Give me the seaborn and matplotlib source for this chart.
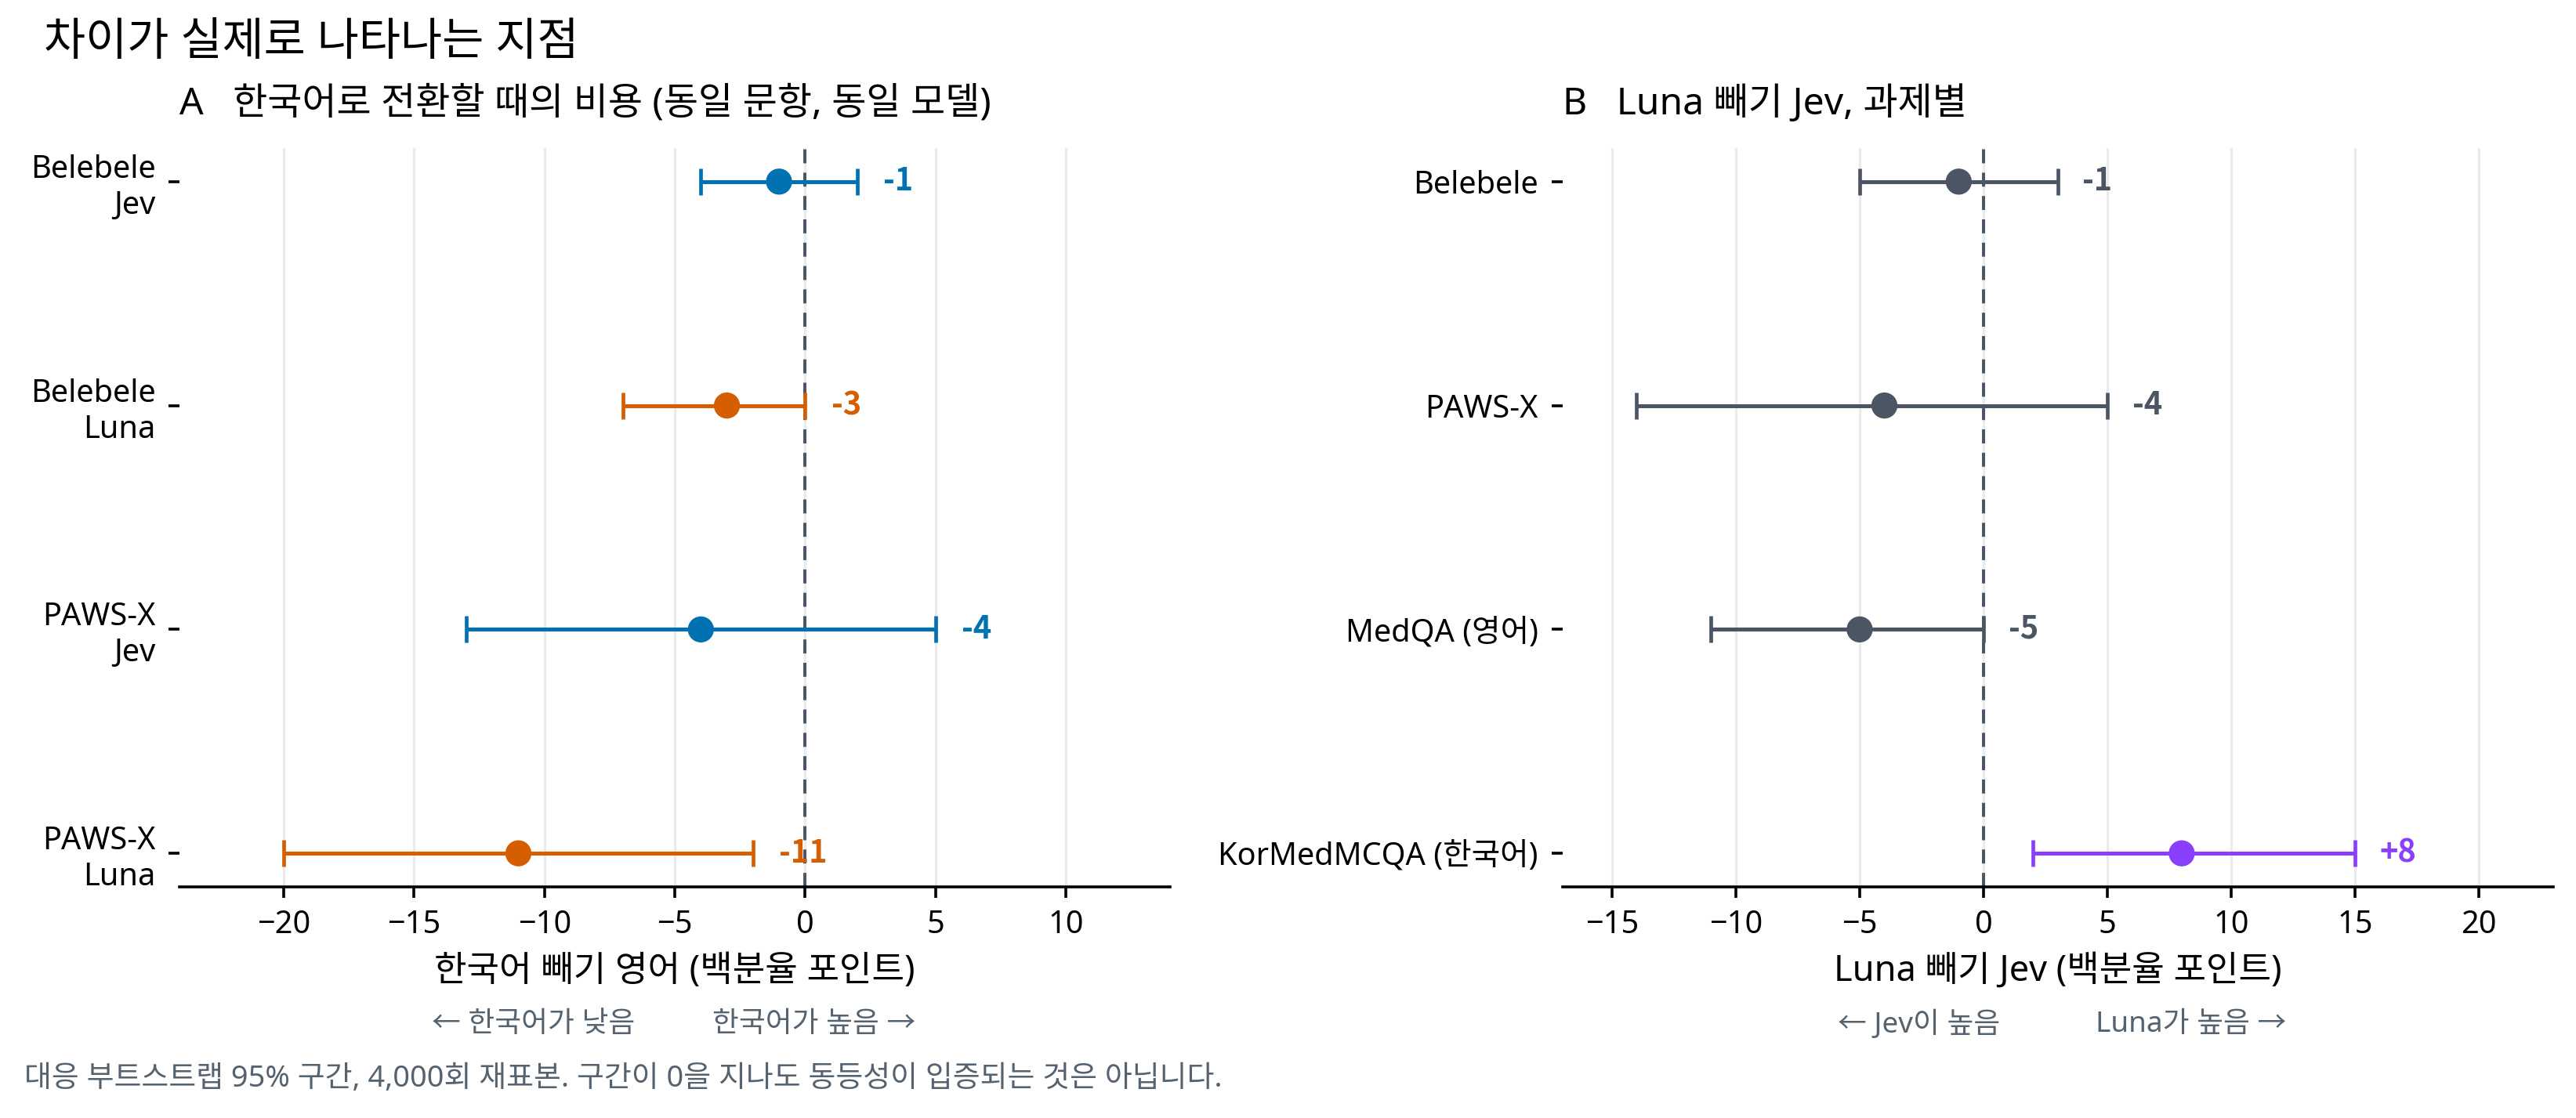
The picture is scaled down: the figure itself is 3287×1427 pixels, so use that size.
import numpy as np
import pandas as pd
import matplotlib
matplotlib.use("Agg")
import matplotlib.pyplot as plt
from matplotlib.ticker import MultipleLocator
import seaborn as sns

# ---------------- data ----------------
a_labels = ["Belebele\nJev", "Belebele\nLuna", "PAWS-X\nJev", "PAWS-X\nLuna"]
a_model = ["Jev", "Luna", "Jev", "Luna"]
a_est = [-1, -3, -4, -11]
a_lo = [-4, -7, -13, -20]
a_hi = [2, 0, 5, -2]

b_labels = ["Belebele", "PAWS-X", "MedQA (영어)", "KorMedMCQA (한국어)"]
b_group = ["영어", "영어", "영어", "한국어"]
b_est = [-1, -4, -5, 8]
b_lo = [-5, -14, -11, 2]
b_hi = [3, 5, 0, 15]

title = "차이가 실제로 나타나는 지점"
a_title = "A   한국어로 전환할 때의 비용 (동일 문항, 동일 모델)"
b_title = "B   Luna 빼기 Jev, 과제별"
a_xlabel = "한국어 빼기 영어 (백분율 포인트)"
b_xlabel = "Luna 빼기 Jev (백분율 포인트)"
a_arrows = ("← 한국어가 낮음", "한국어가 높음 →")
b_arrows = ("← Jev이 높음", "Luna가 높음 →")
footnote = "대응 부트스트랩 95% 구간, 4,000회 재표본. 구간이 0을 지나도 동등성이 입증되는 것은 아닙니다."

a_palette = {"Jev": "#0072B2", "Luna": "#D55E00"}
b_palette = {"영어": "#4B5563", "한국어": "#8A3FFC"}

# ---------------- style ----------------
sns.set_theme(style="white")
plt.rcParams["font.family"] = ["Noto Sans", "Noto Sans CJK KR", "DejaVu Sans"]
plt.rcParams["axes.unicode_minus"] = True
BOLD_FAMILY = ["Noto Sans CJK KR", "DejaVu Sans"]

GRAY_TXT = "#556270"
DPI = 260
fig = plt.figure(figsize=(3287 / DPI, 1427 / DPI), dpi=DPI)
fig.patch.set_facecolor("white")

axA = fig.add_axes([0.0697, 0.2067, 0.3845, 0.6609])
axB = fig.add_axes([0.6065, 0.2067, 0.3847, 0.6609])


def draw_panel(ax, labels, groups, est, lo, hi, palette, xlim, ptitle, xlabel, arrows, arrow_edges):
    df = pd.DataFrame({
        "label": labels, "group": groups, "est": est, "lo": lo, "hi": hi,
    })
    df["pos"] = np.arange(len(df))
    # grid and zero line
    ax.set_xlim(*xlim)
    ax.xaxis.set_major_locator(MultipleLocator(5))
    ax.grid(axis="x", color="#ebebeb", linewidth=0.9, zorder=0)
    ax.grid(axis="y", visible=False)
    ax.axvline(0, color="#4a5568", linewidth=1.1, linestyle=(0, (4.5, 3)), zorder=1)
    # intervals
    for _, r in df.iterrows():
        c = palette[r["group"]]
        ax.errorbar(r["est"], r["pos"],
                    xerr=[[r["est"] - r["lo"]], [r["hi"] - r["est"]]],
                    fmt="none", ecolor=c, elinewidth=1.4, capsize=4.6,
                    capthick=1.3, zorder=2)
        ax.text(r["hi"] + 1, r["pos"], f"{int(r['est']):+d}" if r["est"] > 0 else f"{int(r['est'])}",
                color=c, fontsize=11, fontweight="bold", family=BOLD_FAMILY,
                ha="left", va="center", zorder=4)
    # points
    sns.scatterplot(data=df, x="est", y="pos", hue="group", palette=palette,
                    s=85, edgecolor="none", legend=False, ax=ax, zorder=3)
    ax.set_ylim(len(df) - 1 + 0.15, -0.15)
    ax.set_yticks(df["pos"])
    ax.set_yticklabels(df["label"], fontsize=11, color="black", ha="right",
                       multialignment="right")
    ax.tick_params(axis="x", labelsize=11, colors="black", length=4, width=1.0,
                   direction="out", bottom=True, pad=4)
    ax.tick_params(axis="y", length=4, width=1.0, direction="out", left=True, pad=4.5,
                   colors="black")
    for s in ["top", "right", "left"]:
        ax.spines[s].set_visible(False)
    ax.spines["bottom"].set_color("black")
    ax.spines["bottom"].set_linewidth(1.0)
    ax.set_ylabel("")
    ax.set_xlabel(xlabel, fontsize=12.5, color="black")
    ax.xaxis.set_label_coords(0.5, -0.1145)
    ax.xaxis.label.set_va("center")
    ax.text(0.0, 1.060, ptitle, transform=ax.transAxes, fontsize=13.3,
            ha="left", va="center", color="black")
    ax.text(arrow_edges[0], -0.1866, arrows[0], transform=ax.transAxes,
            fontsize=10.2, color=GRAY_TXT, ha="right", va="center")
    ax.text(arrow_edges[1], -0.1866, arrows[1], transform=ax.transAxes,
            fontsize=10.2, color=GRAY_TXT, ha="left", va="center")


draw_panel(axA, a_labels, a_model, a_est, a_lo, a_hi, a_palette, (-24, 14),
           a_title, a_xlabel, a_arrows, (0.460, 0.538))
draw_panel(axB, b_labels, b_group, b_est, b_lo, b_hi, b_palette, (-17, 23),
           b_title, b_xlabel, b_arrows, (0.4415, 0.538))

fig.text(0.017, 0.9615, title, fontsize=16, ha="left", va="center", color="black")
fig.text(0.0094, 0.035, footnote, fontsize=10.5, ha="left", va="center", color=GRAY_TXT)

fig.savefig("out.png", dpi=DPI, facecolor="white")
